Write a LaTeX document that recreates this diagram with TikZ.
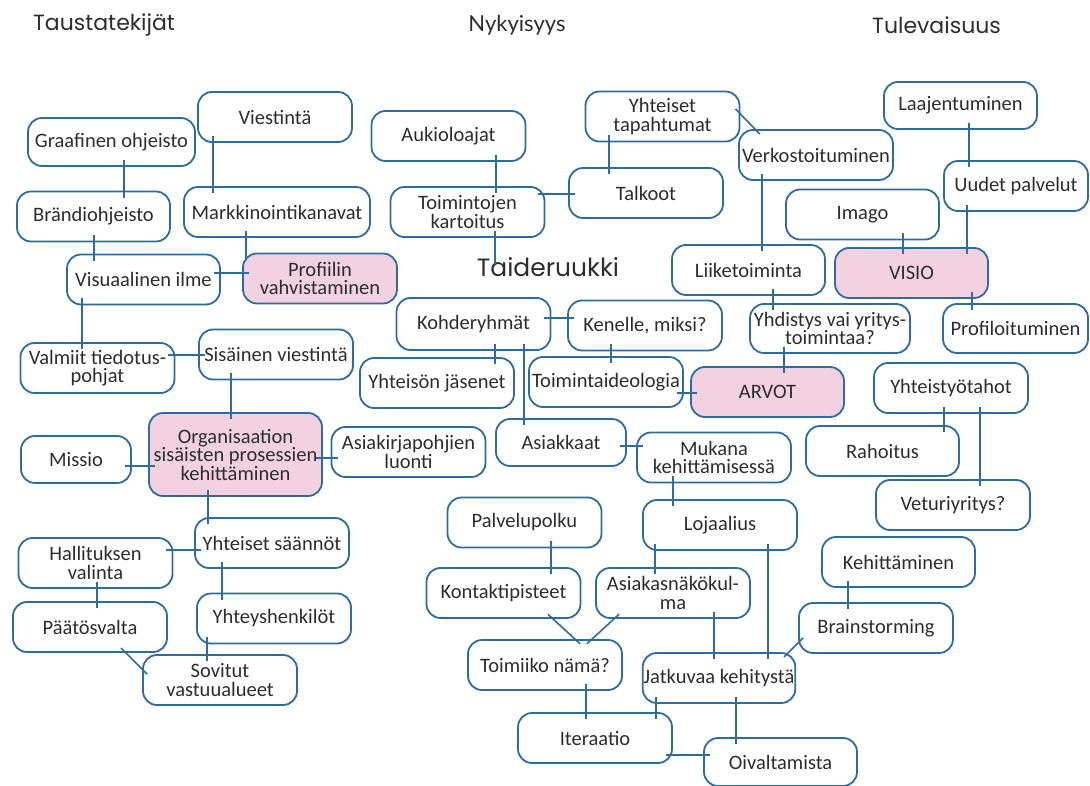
\documentclass[tikz,border=0pt]{standalone}
\usepackage{fontspec}
\setmainfont{Carlito}
\newfontfamily\headfont{Poppins}
\newfontfamily\nykfont{Lato}
\definecolor{bordc}{RGB}{47,108,158}
\definecolor{linec}{RGB}{47,108,158}
\definecolor{pinkf}{RGB}{242,210,225}
\definecolor{txtc}{RGB}{45,45,45}
\begin{document}
\begin{tikzpicture}[x=1pt,y=-1pt,
 box/.style={draw=bordc, line width=1.8pt, rounded corners=14pt, fill=white, text=txtc,
   font={\fontsize{20.5}{18.5}\selectfont}, align=center, minimum width=154pt, minimum height=50pt, inner sep=1pt},
 hl/.style={box, fill=pinkf},
 conn/.style={draw=linec, line width=1.6pt, shorten <=-7pt, shorten >=-7pt},
 head/.style={text=txtc, font={\headfont\fontsize{22}{24}\selectfont}, inner sep=0pt}]
\fill[white] (0,0) rectangle (1090,786);
\useasboundingbox (0,0) rectangle (1090,786);

% headers
\node[head] (h1) at (104,25) {Taustatekijät};
\node[head, font={\nykfont\fontsize{22}{24}\selectfont}] (h2) at (517,25) {Nykyisyys};
\node[head] (h3) at (936.5,25) {Tulevaisuus};
\node[head, font={\headfont\fontsize{25}{28}\selectfont}] (taid) at (548,267) {Taideruukki};

% left column
\node[box] (vies) at (275,117) {Viestintä};
\node[box, minimum width=167pt, minimum height=48pt] (graf) at (111.5,142) {Graafinen ohjeisto};
\node[box, minimum width=153pt] (bran) at (93.5,216.5) {Brändiohjeisto};
\node[box, minimum width=186pt] (mark) at (277,212) {Markkinointikanavat};
\node[box, minimum width=153pt] (visu) at (143.5,279.5) {Visuaalinen ilme};
\node[hl] (prof) at (320,278.5) {Profiilin\\vahvistaminen};
\node[box] (valm) at (97.5,368) {Valmiit tiedotus-\\pohjat};
\node[box] (sisv) at (276,354.5) {Sisäinen viestintä};
\node[hl, minimum width=173pt, minimum height=83pt] (org) at (235.5,454.5) {Organisaation\\sisäisten prosessien\\kehittäminen};
\node[box, minimum width=110pt, minimum height=47pt] (miss) at (76,459.5) {Missio};
\node[box] (asik) at (408.5,452) {Asiakirjapohjien\\luonti};
\node[box] (ysaa) at (272,543) {Yhteiset säännöt};
\node[box] (hall) at (95.5,563) {Hallituksen\\valinta};
\node[box] (paat) at (90,627) {Päätösvalta};
\node[box] (yhte) at (274,618.5) {Yhteyshenkilöt};
\node[box] (sovi) at (220,680) {Sovitut\\vastuualueet};

% middle column
\node[box] (auki) at (448.5,136) {Aukioloajat};
\node[box] (toim) at (467.5,212) {Toimintojen\\kartoitus};
\node[box] (ytap) at (662.5,116.5) {Yhteiset\\tapahtumat};
\node[box] (talk) at (646,193) {Talkoot};
\node[box, minimum height=52pt] (kohd) at (473.5,324) {Kohderyhmät};
\node[box] (kene) at (645,325.5) {Kenelle, miksi?};
\node[box] (yjas) at (437,383) {Yhteisön jäsenet};
\node[box] (tide) at (606,382) {Toimintaideologia};
\node[box, minimum width=130pt, minimum height=47pt] (asia) at (561,442.5) {Asiakkaat};
\node[box] (muka) at (714,457.5) {Mukana\\kehittämisessä};
\node[box] (palv) at (524.5,522.5) {Palvelupolku};
\node[box] (loja) at (720,525) {Lojaalius};
\node[box] (kont) at (503.5,593) {Kontaktipisteet};
\node[box] (asnk) at (673,593) {Asiakasnäkökul-\\ma};
\node[box] (toii) at (545,665) {Toimiiko nämä?};
\node[box, minimum width=152pt] (jatk) at (719,678) {Jatkuvaa kehitystä};
\node[box] (iter) at (595,738) {Iteraatio};
\node[box, minimum width=153pt, minimum height=48pt] (oiva) at (780.5,762) {Oivaltamista};

% right column
\node[box, minimum width=153pt, minimum height=47pt] (laaj) at (960.5,105.5) {Laajentuminen};
\node[box, minimum width=144pt] (uude) at (1016,186) {Uudet palvelut};
\node[box] (verk) at (816,155) {Verkostoituminen};
\node[box, minimum width=153pt] (imag) at (862.5,214.5) {Imago};
\node[box, minimum width=153pt] (liik) at (748.5,270) {Liiketoiminta};
\node[hl, minimum width=153pt] (visi) at (911.5,273) {VISIO};
\node[box, minimum width=160pt, minimum height=49pt] (yhdi) at (830,328.5) {Yhdistys vai yritys-\\toimintaa?};
\node[box, minimum width=145pt, minimum height=49pt] (prfl) at (1015.5,328.5) {Profiloituminen};
\node[hl, minimum width=153pt] (arvo) at (767.5,392) {ARVOT};
\node[box] (ytah) at (951,388) {Yhteistyötahot};
\node[box, minimum width=153pt] (raho) at (882.5,451) {Rahoitus};
\node[box] (vetu) at (953,505) {Veturiyritys?};
\node[box, minimum width=153pt] (kehi) at (898.5,562) {Kehittäminen};
\node[box] (brai) at (876,628) {Brainstorming};

% connectors, left
\draw[conn] (graf.south -| 124,0) -- (bran.north -| 124,0);
\draw[conn] (vies.south -| 213,0) -- (mark.north -| 213,0);
\draw[conn] (bran.south -| 94,0) -- (visu.north -| 94,0);
\draw[conn] (mark.south -| 246,0) -- (prof.north -| 246,0);
\draw[conn] (visu.east |- 0,273) -- (prof.west |- 0,273);
\draw[conn] (visu.south -| 82,0) -- (valm.north -| 82,0);
\draw[conn] (valm.east |- 0,355) -- (sisv.west |- 0,355);
\draw[conn] (sisv.south -| 231,0) -- (org.north -| 231,0);
\draw[conn] (miss.east |- 0,466) -- (org.west |- 0,466);
\draw[conn] (org.east |- 0,458) -- (asik.west |- 0,458);
\draw[conn] (org.south -| 208,0) -- (ysaa.north -| 208,0);
\draw[conn] (hall.east |- 0,550) -- (ysaa.west |- 0,550);
\draw[conn] (hall.south -| 97,0) -- (paat.north -| 97,0);
\draw[conn] (ysaa.south -| 222,0) -- (yhte.north -| 222,0);
\draw[conn] (paat.south -| 126,0) -- (sovi.west |- 0,669);
\draw[conn] (yhte.south -| 207,0) -- (sovi.north -| 207,0);

% connectors, middle
\draw[conn] (auki.south -| 496,0) -- (toim.north -| 496,0);
\draw[conn] (toim.south -| 495,0) -- (taid.north -| 495,0);
\draw[conn] (ytap.south -| 609,0) -- (talk.north -| 609,0);
\draw[conn] (toim.east |- 0,194) -- (talk.west |- 0,194);
\draw[conn] (ytap.east |- 0,114) -- (verk.north -| 755,0);
\draw[conn] (kohd.east |- 0,318) -- (kene.west |- 0,318);
\draw[conn] (kohd.south -| 495,0) -- (yjas.north -| 495,0);
\draw[conn] (kene.south -| 611,0) -- (tide.north -| 611,0);
\draw[conn] (tide.east |- 0,393) -- (arvo.west |- 0,393);
\draw[conn] (kohd.south -| 524,0) -- (asia.north -| 524,0);
\draw[conn] (asia.east |- 0,446) -- (muka.west |- 0,446);
\draw[conn] (muka.south -| 673,0) -- (loja.north -| 673,0);
\draw[conn] (palv.south -| 551,0) -- (kont.north -| 551,0);
\draw[conn] (loja.south -| 655,0) -- (asnk.north -| 655,0);
\draw[conn] (kont.south -| 553,0) -- (toii.north -| 575,0);
\draw[conn] (asnk.south -| 614,0) -- (toii.north -| 592,0);
\draw[conn] (asnk.south -| 714,0) -- (jatk.north -| 714,0);
\draw[conn] (loja.south -| 768,0) -- (jatk.north -| 768,0);
\draw[conn] (brai.west |- 0,643) -- (jatk.north -| 789,0);
\draw[conn] (toii.south -| 586,0) -- (iter.north -| 586,0);
\draw[conn] (jatk.south -| 656,0) -- (iter.north -| 656,0);
\draw[conn] (jatk.south -| 736,0) -- (oiva.north -| 736,0);
\draw[conn] (iter.east |- 0,755) -- (oiva.west |- 0,755);

% connectors, right
\draw[conn] (laaj.south -| 969,0) -- (uude.north -| 969,0);
\draw[conn] (verk.south -| 762,0) -- (liik.north -| 762,0);
\draw[conn] (imag.south -| 903,0) -- (visi.north -| 903,0);
\draw[conn] (uude.south -| 967,0) -- (visi.north -| 967,0);
\draw[conn] (visi.south -| 972,0) -- (prfl.north -| 972,0);
\draw[conn] (liik.south -| 773,0) -- (yhdi.north -| 773,0);
\draw[conn] (yhdi.south -| 784,0) -- (arvo.north -| 784,0);
\draw[conn] (ytah.south -| 944,0) -- (raho.north -| 944,0);
\draw[conn] (ytah.south -| 980,0) -- (vetu.north -| 980,0);
\draw[conn] (kehi.south -| 848,0) -- (brai.north -| 848,0);
\end{tikzpicture}
\end{document}
